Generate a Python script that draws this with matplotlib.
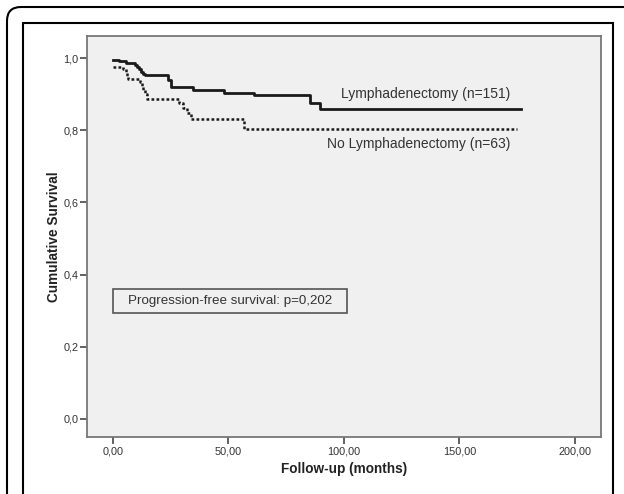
import numpy as np
import matplotlib.pyplot as plt
from matplotlib.patches import Rectangle, FancyBboxPatch
from matplotlib.ticker import FuncFormatter

plt.rcParams['font.family'] = ['Liberation Sans', 'DejaVu Sans']

# Kaplan-Meier steps (months, survival)
lymph_t = [0, 2.7, 5.6, 9.7, 10.7, 11.4, 12.3, 13.3, 14.0, 23.8, 25.2,
           34.9, 48.3, 61.3, 85.4, 89.7, 176.6]
lymph_s = [0.995, 0.992, 0.987, 0.981, 0.975, 0.969, 0.961, 0.956, 0.952,
           0.939, 0.919, 0.911, 0.904, 0.897, 0.875, 0.860, 0.860]

no_lymph_t = [0, 4.6, 5.6, 6.2, 6.8, 11.8, 12.5, 13.3, 14.0, 14.7, 28.7,
              30.6, 32.0, 33.9, 57.0, 175.0]
no_lymph_s = [0.976, 0.969, 0.958, 0.948, 0.941, 0.934, 0.922, 0.911, 0.900,
              0.886, 0.874, 0.861, 0.847, 0.830, 0.802, 0.802]

x_ticks = [0, 50, 100, 150, 200]
y_ticks = [0.0, 0.2, 0.4, 0.6, 0.8, 1.0]

label_lymph = "Lymphadenectomy (n=151)"
label_no_lymph = "No Lymphadenectomy (n=63)"
p_text = "Progression-free survival: p=0,202"

fig = plt.figure(figsize=(6.24, 4.94), dpi=100)
fig.patch.set_facecolor('white')
ax = fig.add_axes([87.3 / 624, 56.7 / 494, (600.7 - 87.3) / 624, (437.3 - 36) / 494])
ax.set_facecolor('#f0f0f0')

# curves
ax.step(lymph_t, lymph_s, where='post', color='#1a1a1a', lw=2.0)
ax.step(no_lymph_t, no_lymph_s, where='post', color='#1a1a1a', lw=1.8,
        linestyle=(0, (1.1, 0.9)))

ax.set_xlim(-11, 211.2)
ax.set_ylim(-0.051, 1.061)
ax.set_xticks(x_ticks)
ax.set_yticks(y_ticks)
ax.xaxis.set_major_formatter(FuncFormatter(lambda v, p: f"{v:.2f}".replace('.', ',')))
ax.yaxis.set_major_formatter(FuncFormatter(lambda v, p: f"{v:.1f}".replace('.', ',')))
ax.tick_params(direction='out', length=5, width=1.3, color='#555555',
               labelsize=7.8, labelcolor='#333333', pad=1.5)

for side in ['top', 'right', 'bottom', 'left']:
    ax.spines[side].set_color('#777777')
    ax.spines[side].set_linewidth(1.3)

ax.set_xlabel("Follow-up (months)", fontsize=9.8, fontweight='bold', color='#222222', labelpad=4)
ax.set_ylabel("Cumulative Survival", fontsize=9.8, fontweight='bold', color='#222222', labelpad=1.5)

# curve labels
ax.text(172, 0.900, label_lymph, ha='right', va='center', fontsize=10, color='#333333')
ax.text(172, 0.762, label_no_lymph, ha='right', va='center', fontsize=10, color='#333333')

# p-value box
ax.add_patch(Rectangle((0, 0.294), 101.6, 0.066, fill=False, edgecolor='#555555', lw=1.2))
ax.text(50.8, 0.327, p_text, ha='center', va='center', fontsize=9.6, color='#333333')

# outer frames
outer = FancyBboxPatch((0.07, -1.0), 7.0, 5.87, boxstyle="round,pad=0,rounding_size=0.14",
                       transform=fig.dpi_scale_trans, fill=False, edgecolor='black',
                       lw=1.5, clip_on=False)
fig.add_artist(outer)
inner = Rectangle((0.23, -1.0), 6.125 - 0.23, 5.71, transform=fig.dpi_scale_trans,
                  fill=False, edgecolor='black', lw=1.5, clip_on=False)
fig.add_artist(inner)

fig.savefig('out.png', dpi=100)
